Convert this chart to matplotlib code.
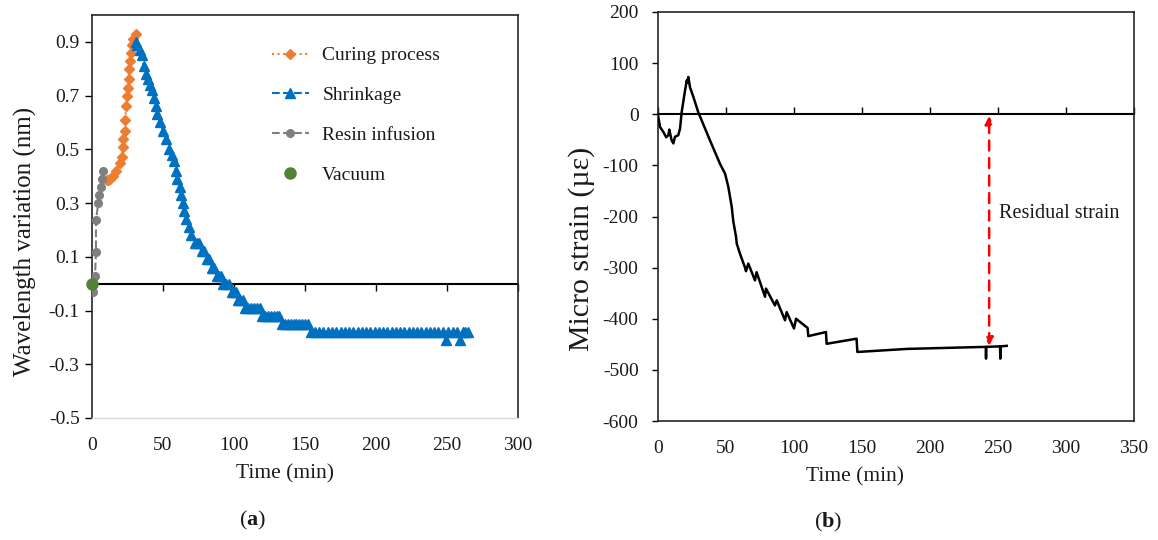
import matplotlib
matplotlib.use("Agg")
import matplotlib.pyplot as plt

plt.rcParams['font.family'] = ['Liberation Serif', 'DejaVu Serif']
plt.rcParams['axes.unicode_minus'] = False
plt.rcParams['mathtext.fontset'] = 'custom'
plt.rcParams['mathtext.rm'] = 'Liberation Serif'
plt.rcParams['mathtext.bf'] = 'Liberation Serif:bold'

TXT = '#1a1a1a'

# ---------------- data: panel (a) ----------------
vacuum_t = [0]
vacuum_v = [0.0]

resin_t = [0.9, 2.1, 2.8, 2.8, 4.5, 5.2, 6.1, 6.8, 8.0]
resin_v = [-0.032, 0.027, 0.117, 0.238, 0.30, 0.33, 0.36, 0.39, 0.42]

curing_t = [10.3, 11.5, 13.0, 15.0, 17.0, 19.7, 21.0, 21.6, 22.0, 23.0, 23.5, 24.0,
            24.7, 25.2, 25.8, 26.3, 26.7, 27.5, 28.2, 28.7, 31.0]
curing_v = [0.387, 0.387, 0.39, 0.40, 0.42, 0.45, 0.47, 0.51, 0.54, 0.57, 0.61, 0.66,
            0.70, 0.73, 0.76, 0.80, 0.83, 0.86, 0.89, 0.91, 0.93]

shrink_t = [31, 32, 33.8, 35, 36.5, 38, 39.6, 41, 42, 43.7, 45, 46, 47.9, 50, 52.1,
            54.5, 56, 57.7, 59, 60.1, 62, 63, 63.8, 65, 66.2, 68, 70, 72.5, 74, 75.5,
            77.2, 79, 80.8, 82.5, 84.3, 86, 87.8, 89.5, 91, 92.5, 94.5, 96.5, 98.4,
            100, 101.5, 102.5, 104, 106, 108, 110, 112, 114, 116, 118, 120, 122, 124,
            126, 128, 130, 132, 134, 136, 138, 140, 142, 144, 146, 148, 150, 152,
            154, 157, 160, 163, 166, 169, 172, 175, 178, 181, 184, 187, 190, 193, 196,
            199, 202, 205, 208, 211, 214, 217, 220, 223, 226, 229, 232, 235, 238, 241,
            244, 247, 249, 251, 254, 257, 259, 261, 263, 265]
shrink_v = [0.90, 0.89, 0.87, 0.85, 0.81, 0.78, 0.76, 0.74, 0.72, 0.69, 0.66, 0.63,
            0.60, 0.57, 0.54, 0.50, 0.48, 0.455, 0.42, 0.39, 0.36, 0.33, 0.30, 0.27,
            0.24, 0.21, 0.18, 0.15, 0.15, 0.15, 0.12, 0.12, 0.09, 0.09, 0.06, 0.06,
            0.03, 0.03, 0.03, 0.00, 0.00, 0.00, -0.03, -0.03, -0.03, -0.06, -0.06,
            -0.06, -0.09, -0.09, -0.09, -0.09, -0.09, -0.09, -0.12, -0.12, -0.12,
            -0.12, -0.12, -0.12, -0.12, -0.15, -0.15, -0.15, -0.15, -0.15, -0.15,
            -0.15, -0.15, -0.15, -0.15,
            -0.18, -0.18, -0.18, -0.18, -0.18, -0.18, -0.18, -0.18, -0.18, -0.18,
            -0.18, -0.18, -0.18, -0.18, -0.18, -0.18, -0.18, -0.18, -0.18, -0.18,
            -0.18, -0.18, -0.18, -0.18, -0.18, -0.18, -0.18, -0.18, -0.18, -0.18,
            -0.18, -0.18, -0.21, -0.18, -0.18, -0.18, -0.21, -0.18, -0.18, -0.18]

a_xticks = [0, 50, 100, 150, 200, 250, 300]
a_yticks = [-0.5, -0.3, -0.1, 0.1, 0.3, 0.5, 0.7, 0.9]
a_yticklabels = ['-0.5', '-0.3', '-0.1', '0.1', '0.3', '0.5', '0.7', '0.9']

# ---------------- data: panel (b) ----------------
strain_t = [0, 1.5, 4, 6, 7.6, 8.3, 10, 11.3, 12.5, 14.9, 16.2, 17.4, 19.5, 21.1,
            21.6, 22.3, 23.5, 26, 29.6, 32.1, 34.6, 38.2, 41.9, 45.6, 49.3, 51.7,
            54.2, 55.4, 57.4, 57.9, 60.3, 64.0, 64.7, 66.4, 71.3, 72.5, 78.7, 79.4,
            86.0, 87.3, 93.4, 94.6, 100.0, 101.5, 110.0, 110.5, 123.5, 124.0, 146.0,
            146.6, 183.0, 241.0, 241.2, 241.4, 251.5, 251.7, 251.9, 256.4]
strain = [-2, -25, -35, -45, -41, -30, -51, -57, -44, -41, -28, 4, 40, 66,
          62, 73, 53, 34, 4, -12, -28, -51, -74, -97, -116, -142,
          -181, -210, -240, -253, -273, -300, -307, -292, -325, -309, -357, -341,
          -374, -364, -403, -387, -419, -400, -418, -434, -426, -449, -439,
          -465, -459, -455, -478, -455, -454, -478, -454, -453]

b_xticks = [0, 50, 100, 150, 200, 250, 300, 350]
b_yticks = [-600, -500, -400, -300, -200, -100, 0, 100, 200]

arrow_t = 243.5
arrow_top = -3
arrow_bottom = -453

# ---------------- figure ----------------
W, H = 1158, 540
fig = plt.figure(figsize=(W / 100, H / 100), dpi=100)

def fx(px):
    return px / W

def fy(py):
    return 1 - py / H

axL = fig.add_axes([fx(92), fy(418), fx(518) - fx(92), fy(15) - fy(418)])
axR = fig.add_axes([fx(658), fy(421), fx(1134) - fx(658), fy(12) - fy(421)])

# ---- panel (a) ----
ln_cur, = axL.plot(curing_t, curing_v, linestyle=':', color='#ed7d31', lw=1.5,
                   marker='D', ms=5, mfc='#ed7d31', mec='#ed7d31', zorder=3)
ln_shr, = axL.plot(shrink_t, shrink_v, linestyle='--', color='#0070c0', lw=1.5,
                   marker='^', ms=7, mfc='#0070c0', mec='#0070c0', zorder=4)
ln_res, = axL.plot(resin_t, resin_v, linestyle='--', color='#7f7f7f', lw=1.5,
                   marker='o', ms=5.5, mfc='#7f7f7f', mec='#7f7f7f', zorder=3)
ln_vac, = axL.plot(vacuum_t, vacuum_v, linestyle='none', color='#548235',
                   marker='o', ms=8, zorder=5, clip_on=False)

axL.set_xlim(0, 300)
axL.set_ylim(-0.5, 1.0)
axL.set_xticks(a_xticks)
axL.set_xticklabels([str(v) for v in a_xticks])
axL.set_yticks(a_yticks)
axL.set_yticklabels(a_yticklabels)
axL.tick_params(axis='x', length=0, pad=14, labelsize=14, labelcolor=TXT)
axL.tick_params(axis='y', length=5, width=1, direction='out', pad=4,
                labelsize=14, labelcolor=TXT)
for s in ['left', 'top', 'right']:
    axL.spines[s].set_color('#262626')
    axL.spines[s].set_linewidth(1.2)
axL.spines['bottom'].set_color('#d9d9d9')
axL.spines['bottom'].set_linewidth(1.0)

secL = axL.secondary_xaxis(1 / 3)
secL.set_alignment('bottom')
secL.set_xticks(a_xticks)
secL.tick_params(axis='x', length=5, width=1, direction='out',
                 labelbottom=False, labeltop=False)
secL.spines['bottom'].set_color('#000000')
secL.spines['bottom'].set_linewidth(1.5)

leg = axL.legend([ln_cur, ln_shr, ln_res, ln_vac],
                 ['Curing process', 'Shrinkage', 'Resin infusion', 'Vacuum'],
                 loc='upper left', bbox_to_anchor=(fx(262), fy(37)),
                 bbox_transform=fig.transFigure, frameon=False, fontsize=14,
                 handlelength=1.9, handletextpad=0.7, labelspacing=1.15,
                 borderpad=0)
for t in leg.get_texts():
    t.set_color(TXT)

# ---- panel (b) ----
axR.plot(strain_t, strain, color='black', lw=1.8, zorder=3)
axR.annotate('', xy=(arrow_t, arrow_top), xytext=(arrow_t, arrow_bottom),
             arrowprops=dict(arrowstyle='<|-|>', color='#ff0000', lw=1.8,
                             linestyle=(0, (4, 3)), mutation_scale=12,
                             shrinkA=0, shrinkB=0), zorder=4)
axR.text(250.5, -194, 'Residual strain', fontsize=14.5, color=TXT,
         ha='left', va='center')

axR.set_xlim(0, 350)
axR.set_ylim(-600, 200)
axR.set_xticks(b_xticks)
axR.set_xticklabels([str(v) for v in b_xticks])
axR.set_yticks(b_yticks)
axR.set_yticklabels([str(v) for v in b_yticks])
axR.tick_params(axis='x', length=0, pad=14, labelsize=14, labelcolor=TXT)
axR.tick_params(axis='y', length=4, width=1, direction='out', pad=10,
                labelsize=14, labelcolor=TXT)
for s in ['left', 'top', 'right', 'bottom']:
    axR.spines[s].set_color('#262626')
    axR.spines[s].set_linewidth(1.2)

secR = axR.secondary_xaxis(0.75)
secR.set_alignment('top')
secR.set_xticks(b_xticks)
secR.tick_params(axis='x', length=5, width=1, direction='out',
                 labelbottom=False, labeltop=False)
secR.spines['top'].set_color('#000000')
secR.spines['top'].set_linewidth(1.5)

# ---- labels ----
fig.text(fx(25), fy(241), 'Wavelength variation (nm)', rotation=90,
         ha='center', va='center', fontsize=18, color=TXT)
fig.text(fx(582), fy(249), 'Micro strain (\u00b5\u03b5)', rotation=90,
         ha='center', va='center', fontsize=21.5, color=TXT)
fig.text(fx(285), fy(474), 'Time (min)', ha='center', va='center',
         fontsize=15.5, color=TXT)
fig.text(fx(855), fy(477), 'Time (min)', ha='center', va='center',
         fontsize=15.5, color=TXT)
fig.text(fx(253), fy(520), r'($\mathbf{a}$)', ha='center', va='center',
         fontsize=16, color=TXT)
fig.text(fx(828), fy(522), r'($\mathbf{b}$)', ha='center', va='center',
         fontsize=16, color=TXT)

fig.savefig('out.png', dpi=100, facecolor='white')
